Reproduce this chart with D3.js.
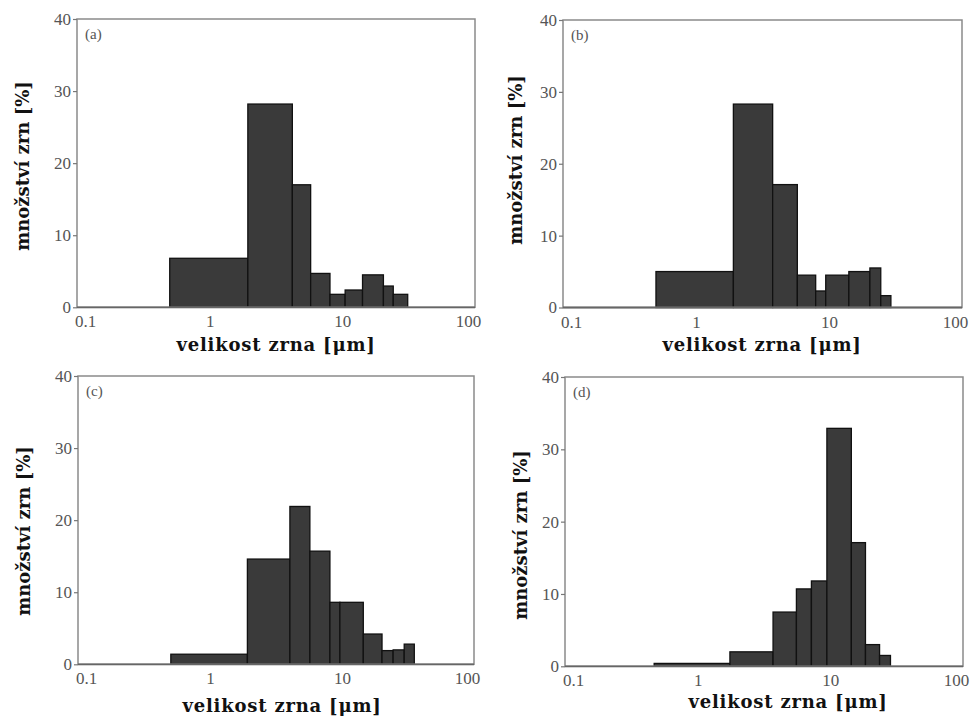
<!DOCTYPE html>
<html>
<head>
<meta charset="utf-8">
<script src="https://cdn.jsdelivr.net/npm/d3@7/dist/d3.min.js"></script>
<style>
  html, body { margin: 0; padding: 0; background: #fff; }
  svg { display: block; }
</style>
</head>
<body>
<svg id="chart" width="973" height="718"></svg>
<script>
// ---- data (bin edges in µm, bar heights in %) ----
const panelLabels = ["(a)", "(b)", "(c)", "(d)"];
const xTickValues = [0.1, 1, 10, 100];
const xTickLabels = ["0.1", "1", "10", "100"];
const yTickValues = [0, 10, 20, 30, 40];

const edgesA  = [0.5, 1.94, 4.2, 5.77, 8.07, 10.5, 14.2, 20.4, 24.2, 31.1];
const valuesA = [6.8, 28.2, 17.0, 4.7, 1.8, 2.4, 4.5, 2.95, 1.8];

const edgesB  = [0.5, 1.91, 3.77, 5.78, 7.94, 9.45, 14.1, 20.3, 24.5, 29.2];
const valuesB = [5.0, 28.3, 17.1, 4.5, 2.3, 4.5, 5.0, 5.5, 1.65];

const edgesC  = [0.505, 1.92, 4.03, 5.71, 8.1, 9.64, 14.5, 20.1, 24.4, 29.6, 35.3];
const valuesC = [1.4, 14.6, 21.9, 15.7, 8.6, 8.6, 4.2, 1.9, 2.0, 2.8];

const edgesD  = [0.47, 1.75, 3.7, 5.55, 7.2, 9.42, 14.4, 18.4, 23.5, 28.4];
const valuesD = [0.4, 2.0, 7.5, 10.7, 11.8, 32.9, 17.1, 3.0, 1.5];

const yTitle = "množství zrn [%]";
const xTitle = "velikost zrna [μm]";

// ---- layout ----
const panels = [
  { edges: edgesA, values: valuesA, label: panelLabels[0], x0: 77,  x1: 475, y0: 19,  y1: 307.3, yt: [22, 166], xt: [276, 351] },
  { edges: edgesB, values: valuesB, label: panelLabels[1], x0: 563, x1: 962, y0: 20,  y1: 307.5, yt: [515, 160], xt: [762, 351] },
  { edges: edgesC, values: valuesC, label: panelLabels[2], x0: 78,  x1: 474, y0: 376, y1: 664.3, yt: [23, 531], xt: [282, 712] },
  { edges: edgesD, values: valuesD, label: panelLabels[3], x0: 565, x1: 963, y0: 377, y1: 666.3, yt: [520, 535], xt: [788, 708] }
];

const svg = d3.select("#chart");
const serif = "'Liberation Serif', 'DejaVu Serif', serif";
const titleFont = "'DejaVu Serif', 'Liberation Serif', serif";
const xLabelShift = [8, 0, 0, -7];

panels.forEach(p => {
  const x = d3.scaleLog().domain([0.1, 100]).range([p.x0, p.x1]);
  const y = d3.scaleLinear().domain([0, 40]).range([p.y1, p.y0]);
  const g = svg.append("g");

  const bins = p.values.map((v, i) => ({ a: p.edges[i], b: p.edges[i + 1], v }));
  g.selectAll("rect.bar").data(bins).enter().append("rect")
    .attr("class", "bar")
    .attr("x", d => x(d.a))
    .attr("y", d => y(d.v))
    .attr("width", d => x(d.b) - x(d.a))
    .attr("height", d => y(0) - y(d.v))
    .attr("fill", "#3a3a3a")
    .attr("stroke", "#111")
    .attr("stroke-width", 1.3);

  // frame
  g.append("rect")
    .attr("x", p.x0).attr("y", p.y0)
    .attr("width", p.x1 - p.x0).attr("height", p.y1 - p.y0)
    .attr("fill", "none").attr("stroke", "#8a8a8a").attr("stroke-width", 1.5);
  g.append("line")
    .attr("x1", p.x0).attr("x2", p.x1).attr("y1", p.y1).attr("y2", p.y1)
    .attr("stroke", "#666").attr("stroke-width", 1.8);

  // y axis
  const ya = g.append("g").attr("transform", `translate(${p.x0},0)`)
    .call(d3.axisLeft(y).tickValues(yTickValues).tickSize(4).tickPadding(2).tickFormat(d3.format("d")));
  ya.select(".domain").remove();
  ya.selectAll(".tick line").attr("stroke", "#777").attr("stroke-width", 1.2);
  ya.selectAll(".tick text").attr("font-family", serif).attr("font-size", 17).attr("fill", "#555");

  // x axis
  const xa = g.append("g").attr("transform", `translate(0,${p.y1})`)
    .call(d3.axisBottom(x).tickValues(xTickValues).tickSize(0).tickPadding(8)
      .tickFormat((d, i) => xTickLabels[i]));
  xa.select(".domain").remove();
  xa.selectAll(".tick text")
    .attr("font-family", serif).attr("font-size", 17).attr("fill", "#555")
    .attr("dx", (d, i) => xLabelShift[i]);

  // panel label
  g.append("text").attr("x", p.x0 + 8).attr("y", p.y0 + 20)
    .attr("font-family", serif).attr("font-size", 15).attr("fill", "#555")
    .text(p.label);

  // axis titles
  g.append("text")
    .attr("transform", `translate(${p.yt[0]},${p.yt[1]}) rotate(-90)`)
    .attr("text-anchor", "middle").attr("dominant-baseline", "central")
    .attr("font-family", titleFont).attr("font-weight", "bold").attr("font-size", 18)
    .attr("fill", "#111").text(yTitle);
  g.append("text")
    .attr("x", p.xt[0]).attr("y", p.xt[1])
    .attr("text-anchor", "middle")
    .attr("font-family", titleFont).attr("font-weight", "bold").attr("font-size", 18)
    .attr("letter-spacing", 0.8)
    .attr("fill", "#111").text(xTitle);
});
</script>
</body>
</html>
